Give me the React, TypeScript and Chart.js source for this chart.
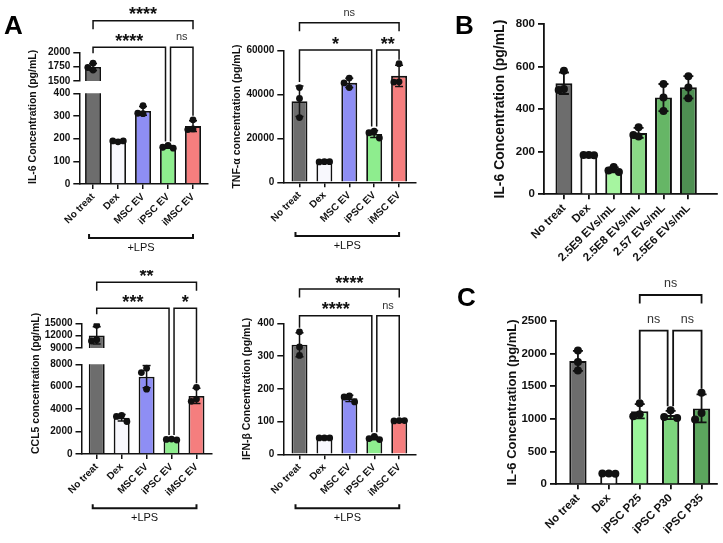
import React, { useEffect, useRef } from "react";
import { Chart, registerables } from "chart.js";

Chart.register(...registerables);

const FONT = "'Liberation Sans', Arial, Helvetica, sans-serif";

// ---------------- data ----------------
const A_CATEGORIES = ["No treat", "Dex", "MSC EV", "iPSC EV", "iMSC EV"];
const A_COLORS = ["#6d6d6d", "#f8f8fd", "#8e8ef4", "#8eed8e", "#f57e7e"];

// replicate values (3 per group), bars = mean, error bars = SD
const IL6_A_REPS = [[1810, 1690, 1735], [186, 190, 190], [345, 310, 312], [170, 162, 158], [283, 243, 240]];
const IL6_A_TICKS_LOW = [0, 100, 200, 300, 400];
const IL6_A_TICKS_HIGH = [1500, 1750, 2000];

const TNF_REPS = [[43200, 38200, 29500], [9400, 9300, 9400], [47500, 45300, 43200], [23300, 22600, 20200], [54100, 45800, 45700]];
const TNF_TICKS = [0, 20000, 40000, 60000];

const CCL5_REPS = [[14500, 11000, 10700], [3450, 3350, 2900], [7650, 7260, 5780], [1330, 1300, 1250], [5950, 4900, 4700]];
const CCL5_TICKS_LOW = [0, 2000, 4000, 6000, 8000];
const CCL5_TICKS_HIGH = [9000, 12000, 15000];

const IFNB_REPS = [[374, 328, 302], [50, 50, 50], [178, 175, 160], [55, 48, 45], [103, 102, 103]];
const IFNB_TICKS = [0, 100, 200, 300, 400];

const B_CATEGORIES = ["No treat", "Dex", "2.5E9 EVs/mL", "2.5E8 EVs/mL", "2.57 EVs/mL", "2.5E6 EVs/mL"];
const B_COLORS = ["#6d6d6d", "#ffffff", "#a6f5a0", "#8ad986", "#66b666", "#4e8f52"];
const B_REPS = [[580, 495, 490], [185, 185, 183], [128, 112, 105], [315, 278, 272], [518, 455, 391], [555, 502, 451]];
const B_TICKS = [0, 200, 400, 600, 800];

const C_CATEGORIES = ["No treat", "Dex", "iPSC P25", "iPSC P30", "iPSC P35"];
const C_COLORS = ["#6d6d6d", "#ffffff", "#9af59a", "#7dd57d", "#5ca65e"];
const C_REPS = [[2045, 1870, 1740], [165, 165, 160], [1240, 1070, 1040], [1130, 1030, 1015], [1400, 1090, 990]];
const C_TICKS = [0, 500, 1000, 1500, 2000, 2500];

// ---------------- helpers ----------------
const mean = (a: number[]) => a.reduce((s, v) => s + v, 0) / a.length;
const stdev = (a: number[]) => {
  const m = mean(a);
  return Math.sqrt(a.reduce((s, v) => s + (v - m) * (v - m), 0) / (a.length - 1));
};

function jitter(vals: number[], thr: number): number[] {
  const slots = [0, -0.21, 0.21, -0.1, 0.1];
  const out: number[] = [];
  vals.forEach((v) => {
    let pick = 0;
    for (const s of slots) {
      if (out.every((o, j) => Math.abs(o - s) >= 0.18 || Math.abs(vals[j] - v) >= thr)) {
        pick = s;
        break;
      }
    }
    out.push(pick);
  });
  return out;
}

type Bracket = { a: number; b: number; text: string; y: number; short?: boolean; da?: number; db?: number };

type Spec = {
  id: string;
  cats: string[];
  colors: string[];
  reps: number[][];
  box: { l: number; t: number; w: number; h: number };
  area: { l: number; t: number; r: number; b: number };
  ticks: number[];
  xRange: [number, number];
  showX: boolean;
  title?: string;
  titleX?: number;
  titleAlign?: "start" | "center";
  fs: { tick: number; xTick: number; title: number; star: number; ns: number; lps: number };
  barPct: number;
  dotR: number;
  cap: number;
  lw: number;
  brackets?: Bracket[];
  textOff: number;
  lps?: number;
  clip: boolean;
};

const FS_A = { tick: 10, xTick: 10, title: 10.5, star: 18, ns: 11, lps: 11 };
const FS_B = { tick: 11.5, xTick: 11.5, title: 14, star: 18, ns: 12, lps: 11 };
const FS_C = { tick: 11.5, xTick: 11.5, title: 13, star: 18, ns: 12.5, lps: 11 };

const SPECS: Spec[] = [
  {
    id: "il6",
    cats: A_CATEGORIES, colors: A_COLORS, reps: IL6_A_REPS,
    box: { l: 0, t: 0, w: 225, h: 265 },
    area: { l: 79.3, t: 93.3, r: 208, b: 184 },
    ticks: IL6_A_TICKS_LOW, xRange: [-0.55, 4.6], showX: true,
    title: "IL-6 Concentration (pg/mL)", titleX: 33, titleAlign: "start",
    fs: FS_A, barPct: 0.64, dotR: 3.4, cap: 8, lw: 1.5, textOff: 10, clip: true,
    brackets: [
      { a: 0, b: 4, text: "****", y: 20.7, short: true },
      { a: 0, b: 3, text: "****", y: 47.3, db: -2.5 },
      { a: 3, b: 4, text: "ns", y: 47.3, da: 2.5 },
    ],
    lps: 238,
  },
  {
    id: "tnf",
    cats: A_CATEGORIES, colors: A_COLORS, reps: TNF_REPS,
    box: { l: 220, t: 0, w: 260, h: 265 },
    area: { l: 283.3, t: 50.7, r: 415.5, b: 182.3 },
    ticks: TNF_TICKS, xRange: [-0.65, 4.66], showX: true,
    title: "TNF-α concentration (pg/mL)", titleX: 237, titleAlign: "center",
    fs: FS_A, barPct: 0.64, dotR: 3.4, cap: 8, lw: 1.5, textOff: 10, clip: false,
    brackets: [
      { a: 0, b: 4, text: "ns", y: 22.7, short: true },
      { a: 0, b: 3, text: "*", y: 50, db: -2.5 },
      { a: 3, b: 4, text: "**", y: 50, da: 2.5 },
    ],
    lps: 236,
  },
  {
    id: "ccl5",
    cats: A_CATEGORIES, colors: A_COLORS, reps: CCL5_REPS,
    box: { l: 0, t: 270, w: 225, h: 273 },
    area: { l: 81.5, t: 364.3, r: 211.7, b: 454 },
    ticks: CCL5_TICKS_LOW, xRange: [-0.61, 4.61], showX: true,
    title: "CCL5 concentration (pg/mL)", titleX: 36, titleAlign: "start",
    fs: FS_A, barPct: 0.64, dotR: 3.4, cap: 8, lw: 1.5, textOff: 10, clip: true,
    brackets: [
      { a: 0, b: 4, text: "**", y: 282.3, short: true },
      { a: 0, b: 3, text: "***", y: 308.3, db: -2.5 },
      { a: 3, b: 4, text: "*", y: 308.3, da: 2.5 },
    ],
    lps: 508.3,
  },
  {
    id: "ifnb",
    cats: A_CATEGORIES, colors: A_COLORS, reps: IFNB_REPS,
    box: { l: 225, t: 270, w: 255, h: 273 },
    area: { l: 283.3, t: 323.3, r: 415.7, b: 454.3 },
    ticks: IFNB_TICKS, xRange: [-0.65, 4.66], showX: true,
    title: "IFN-β Concentration (pg/mL)", titleX: 247, titleAlign: "center",
    fs: FS_A, barPct: 0.64, dotR: 3.4, cap: 8, lw: 1.5, textOff: 10, clip: false,
    brackets: [
      { a: 0, b: 4, text: "****", y: 289, short: true },
      { a: 0, b: 3, text: "****", y: 315.7, db: -2.5 },
      { a: 3, b: 4, text: "ns", y: 315.7, da: 2.5 },
    ],
    lps: 508.3,
  },
  {
    id: "b",
    cats: B_CATEGORIES, colors: B_COLORS, reps: B_REPS,
    box: { l: 480, t: 0, w: 243, h: 265 },
    area: { l: 544, t: 24, r: 717, b: 194.3 },
    ticks: B_TICKS, xRange: [-0.8, 6.15], showX: true,
    title: "IL-6 Concentration (pg/mL)", titleX: 500, titleAlign: "center",
    fs: FS_B, barPct: 0.68, dotR: 4, cap: 10, lw: 1.8, textOff: 11.5, clip: false,
  },
  {
    id: "c",
    cats: C_CATEGORIES, colors: C_COLORS, reps: C_REPS,
    box: { l: 480, t: 270, w: 243, h: 273 },
    area: { l: 556, t: 320.7, r: 717, b: 484.3 },
    ticks: C_TICKS, xRange: [-0.71, 4.5], showX: true,
    title: "IL-6 Concentration (pg/mL)", titleX: 512, titleAlign: "center",
    fs: FS_C, barPct: 0.56, dotR: 4, cap: 10, lw: 1.8, textOff: 11.5, clip: false,
    brackets: [
      { a: 2, b: 4, text: "ns", y: 295, short: true },
      { a: 2, b: 3, text: "ns", y: 330.7, db: -3 },
      { a: 3, b: 4, text: "ns", y: 330.7, da: 2.5 },
    ],
  },
  // upper segments of the broken axes
  {
    id: "il6top",
    cats: A_CATEGORIES, colors: A_COLORS, reps: IL6_A_REPS,
    box: { l: 0, t: 40, w: 225, h: 50 },
    area: { l: 79.3, t: 52.3, r: 208, b: 82.3 },
    ticks: IL6_A_TICKS_HIGH, xRange: [-0.55, 4.6], showX: false,
    fs: FS_A, barPct: 0.64, dotR: 3.4, cap: 8, lw: 1.5, textOff: 10, clip: true,
  },
  {
    id: "ccl5top",
    cats: A_CATEGORIES, colors: A_COLORS, reps: CCL5_REPS,
    box: { l: 0, t: 312, w: 225, h: 45 },
    area: { l: 81.5, t: 323.3, r: 211.7, b: 352.3 },
    ticks: CCL5_TICKS_HIGH, xRange: [-0.61, 4.61], showX: false,
    fs: FS_A, barPct: 0.64, dotR: 3.4, cap: 8, lw: 1.5, textOff: 10, clip: true,
  },
];

function makePlugin(s: Spec) {
  return {
    id: "annot_" + s.id,
    afterDatasetDraw(chart: any, args: any) {
      if (args.index !== 1) return;
      const { ctx, chartArea: ca } = chart;
      const x = chart.scales.x;
      const y = chart.scales.y;
      ctx.save();
      if (s.clip) {
        ctx.beginPath();
        ctx.rect(ca.left, ca.top, ca.right - ca.left, ca.bottom - ca.top);
        ctx.clip();
      }
      ctx.strokeStyle = "#111";
      ctx.lineWidth = s.lw;
      s.reps.forEach((d, i) => {
        const m = mean(d);
        const sd = stdev(d);
        const px = x.getPixelForValue(i);
        const y1 = y.getPixelForValue(m - sd);
        const y2 = y.getPixelForValue(m + sd);
        ctx.beginPath();
        ctx.moveTo(px, y1);
        ctx.lineTo(px, y2);
        ctx.moveTo(px - s.cap / 2, y1);
        ctx.lineTo(px + s.cap / 2, y1);
        ctx.moveTo(px - s.cap / 2, y2);
        ctx.lineTo(px + s.cap / 2, y2);
        ctx.stroke();
      });
      ctx.restore();
    },
    afterDraw(chart: any) {
      const ctx = chart.ctx;
      const x = chart.scales.x;
      const y = chart.scales.y;
      const oy = s.box.t;
      ctx.save();
      ctx.strokeStyle = "#111";
      ctx.fillStyle = "#111";
      ctx.lineJoin = "miter";
      ctx.lineCap = "butt";
      const colTop = (i: number) => {
        const d = s.reps[i];
        return y.getPixelForValue(Math.max(Math.max(...d), mean(d) + stdev(d)));
      };
      (s.brackets || []).forEach((br) => {
        const yl = br.y - oy;
        const xa = x.getPixelForValue(br.a) + (br.da || 0);
        const xb = x.getPixelForValue(br.b) + (br.db || 0);
        const leg = (i: number) => (br.short ? yl + 8.5 : Math.max(yl + 6, colTop(i) - 4));
        ctx.lineWidth = s.lw;
        ctx.beginPath();
        ctx.moveTo(xa, leg(br.a));
        ctx.lineTo(xa, yl);
        ctx.lineTo(xb, yl);
        ctx.lineTo(xb, leg(br.b));
        ctx.stroke();
        const star = br.text.indexOf("*") >= 0;
        ctx.font = (star ? "bold " : "") + (star ? s.fs.star : s.fs.ns) + "px " + FONT;
        ctx.fillStyle = star ? "#111" : "#333";
        const m = ctx.measureText(br.text);
        const cy = yl - s.textOff;
        const by = cy + (m.actualBoundingBoxAscent - m.actualBoundingBoxDescent) / 2;
        ctx.textAlign = "center";
        ctx.textBaseline = "alphabetic";
        ctx.fillText(br.text, (xa + xb) / 2, by);
      });
      if (s.lps !== undefined) {
        const yl = s.lps - oy;
        const xa = x.getPixelForValue(0) - 4;
        const xb = x.getPixelForValue(s.cats.length - 1);
        ctx.lineWidth = 2;
        ctx.beginPath();
        ctx.moveTo(xa, yl - 4);
        ctx.lineTo(xa, yl);
        ctx.lineTo(xb, yl);
        ctx.lineTo(xb, yl - 4);
        ctx.stroke();
        ctx.fillStyle = "#111";
        ctx.font = s.fs.lps + "px " + FONT;
        ctx.textAlign = "center";
        ctx.textBaseline = "middle";
        ctx.fillText("+LPS", (xa + xb) / 2, yl + 10);
      }
      ctx.restore();
    },
  };
}

function buildConfig(s: Spec): any {
  const ymin = s.ticks[0];
  const ymax = s.ticks[s.ticks.length - 1];
  const thr = (2 * s.dotR * (ymax - ymin)) / (s.area.b - s.area.t);
  const points: any[] = [];
  s.reps.forEach((d, i) => {
    const off = jitter(d, thr);
    d.forEach((v, k) => points.push({ x: i + off[k], y: v }));
  });
  const bars = s.reps.map((d, i) => ({ x: i, y: mean(d) }));
  const boxBottom = s.box.t + s.box.h;
  const titleLH = s.fs.title * 1.2;
  return {
    type: "bar",
    data: {
      datasets: [
        {
          type: "scatter",
          data: points,
          backgroundColor: "#111",
          borderColor: "#111",
          pointRadius: s.dotR,
          pointBorderWidth: 0,
          order: 0,
          clip: s.clip ? 0 : 10,
        },
        {
          type: "bar",
          data: bars,
          backgroundColor: s.colors,
          borderColor: "#111",
          borderWidth: s.lw + 0.3,
          borderSkipped: "start",
          categoryPercentage: 1,
          barPercentage: s.barPct,
          order: 1,
          clip: s.clip ? 0 : 10,
        },
      ],
    },
    options: {
      animation: false,
      responsive: false,
      events: [],
      datasets: { bar: { categoryPercentage: 1, barPercentage: s.barPct } },
      layout: {
        padding: {
          left: 0,
          top: s.area.t - s.box.t,
          right: s.box.l + s.box.w - s.area.r,
          bottom: s.showX ? 0 : boxBottom - s.area.b,
        },
      },
      plugins: { legend: { display: false }, tooltip: { enabled: false } },
      scales: {
        x: {
          type: "linear",
          offset: false,
          min: s.xRange[0],
          max: s.xRange[1],
          display: s.showX,
          afterBuildTicks: (sc: any) => {
            sc.ticks = s.cats.map((_, i) => ({ value: i }));
          },
          afterFit: (sc: any) => {
            if (s.showX) sc.height = boxBottom - s.area.b;
          },
          ticks: {
            autoSkip: false,
            minRotation: 45,
            maxRotation: 45,
            padding: 2,
            color: "#111",
            font: { family: FONT, size: s.fs.xTick, weight: "bold" },
            callback: (v: any) => (s.cats[v] !== undefined ? s.cats[v] : ""),
          },
          grid: { offset: false, drawOnChartArea: false, drawTicks: true, tickLength: 5, color: "#111", lineWidth: s.lw },
          border: { display: true, color: "#111", width: s.lw },
        },
        y: {
          type: "linear",
          min: ymin,
          max: ymax,
          afterBuildTicks: (sc: any) => {
            sc.ticks = s.ticks.map((v) => ({ value: v }));
          },
          afterFit: (sc: any) => {
            sc.width = s.area.l - s.box.l;
          },
          ticks: {
            autoSkip: false,
            padding: 3,
            color: "#111",
            font: { family: FONT, size: s.fs.tick, weight: "bold" },
            callback: (v: any) => String(v),
          },
          grid: { drawOnChartArea: false, drawTicks: true, tickLength: 6, color: "#111", lineWidth: s.lw },
          border: { display: true, color: "#111", width: s.lw },
          title: {
            display: !!s.title,
            text: s.title || "",
            align: s.titleAlign || "center",
            color: "#111",
            font: { family: FONT, size: s.fs.title, weight: "bold", lineHeight: 1.2 },
            padding: { top: Math.max(0, (s.titleX || 0) - s.box.l - titleLH / 2), bottom: 0 },
          },
        },
      },
    },
    plugins: [makePlugin(s)],
  };
}

function ChartBox({ spec }: { spec: Spec }) {
  const ref = useRef<HTMLCanvasElement | null>(null);
  useEffect(() => {
    const chart = new Chart(ref.current as HTMLCanvasElement, buildConfig(spec));
    return () => chart.destroy();
  }, [spec]);
  return (
    <canvas
      ref={ref}
      width={spec.box.w}
      height={spec.box.h}
      style={{ position: "absolute", left: spec.box.l, top: spec.box.t, width: spec.box.w, height: spec.box.h }}
    />
  );
}

const letterStyle = (l: number, t: number): React.CSSProperties => ({
  position: "absolute",
  left: l,
  top: t,
  fontFamily: FONT,
  fontWeight: "bold",
  fontSize: 26,
  lineHeight: 1,
  color: "#000",
});

export default function App() {
  return (
    <div
      style={{
        position: "absolute",
        left: 0,
        top: 0,
        width: 723,
        height: 543,
        background: "#fff",
        overflow: "hidden",
      }}
    >
      {SPECS.map((s) => (
        <ChartBox key={s.id} spec={s} />
      ))}
      <div style={letterStyle(4, 11.6)}>A</div>
      <div style={letterStyle(455, 11.5)}>B</div>
      <div style={letterStyle(457, 283.6)}>C</div>
    </div>
  );
}
